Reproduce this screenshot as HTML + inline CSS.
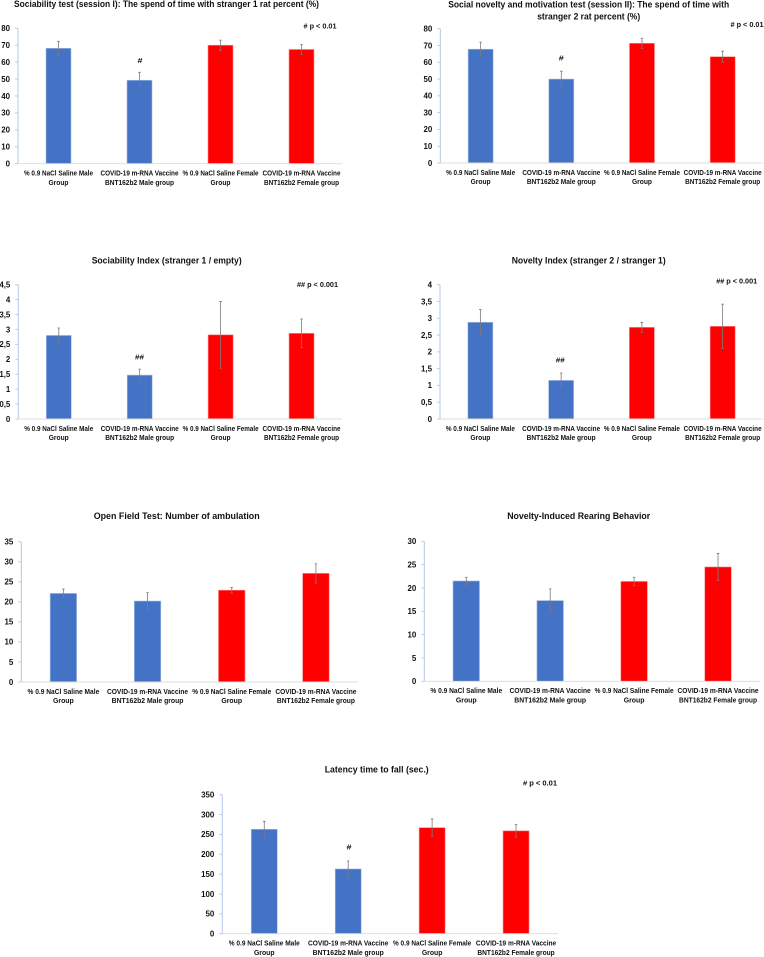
<!DOCTYPE html>
<html lang="en">
<head>
<meta charset="utf-8">
<title>Behavioral test bar charts</title>
<style>
html,body{margin:0;padding:0;background:#fff;width:764px;height:957px;overflow:hidden}
svg{display:block;font-family:"Liberation Sans",sans-serif;font-weight:bold;filter:blur(0.3px)}
</style>
</head>
<body>
<svg id="figure" xmlns="http://www.w3.org/2000/svg" width="764" height="957" viewBox="0 0 764 957"></svg>
<script>
const categoryLinesA = [
  ["% 0.9 NaCl Saline Male", "Group"],
  ["COVID-19 m-RNA Vaccine", "BNT162b2 Male group"],
  ["% 0.9 NaCl Saline Female", "Group"],
  ["COVID-19 m-RNA Vaccine", "BNT162b2 Female group"]
];
const barColors = ["#4472c4", "#4472c4", "#ff0000", "#ff0000"];

const sociabilityTestValues = [68.2, 49.3, 70, 67.5];
const sociabilityTestErrors = [4.1, 4.7, 3, 3];
const sociabilityTestTicks = [0, 10, 20, 30, 40, 50, 60, 70, 80];

const socialNoveltyValues = [67.8, 50, 71.3, 63.3];
const socialNoveltyErrors = [4.2, 4.7, 3, 3.3];
const socialNoveltyTicks = [0, 10, 20, 30, 40, 50, 60, 70, 80];

const sociabilityIndexValues = [2.8, 1.47, 2.82, 2.87];
const sociabilityIndexErrors = [0.25, 0.2, 1.12, 0.48];
const sociabilityIndexTicks = [0, 0.5, 1, 1.5, 2, 2.5, 3, 3.5, 4, 4.5];

const noveltyIndexValues = [2.88, 1.15, 2.73, 2.76];
const noveltyIndexErrors = [0.38, 0.22, 0.15, 0.66];
const noveltyIndexTicks = [0, 0.5, 1, 1.5, 2, 2.5, 3, 3.5, 4];

const ambulationValues = [22.1, 20.2, 22.9, 27.1];
const ambulationErrors = [1.1, 2.1, 0.7, 2.4];
const ambulationTicks = [0, 5, 10, 15, 20, 25, 30, 35];

const rearingValues = [21.5, 17.3, 21.4, 24.5];
const rearingErrors = [0.8, 2.5, 0.9, 2.9];
const rearingTicks = [0, 5, 10, 15, 20, 25, 30];

const latencyValues = [263, 163, 267, 259];
const latencyErrors = [20, 20, 22, 16];
const latencyTicks = [0, 50, 100, 150, 200, 250, 300, 350];

const svg = document.getElementById('figure');
const NS = 'http://www.w3.org/2000/svg';

function make(tag, attrs, parent) {
  const el = document.createElementNS(NS, tag);
  for (const k in attrs) el.setAttribute(k, attrs[k]);
  parent.appendChild(el);
  return el;
}

function label(parent, str, x, y, size, width, anchor) {
  const attrs = {x: x, y: y, 'font-size': size, 'text-anchor': anchor || 'middle', fill: '#111'};
  if (width) {
    attrs.textLength = width;
    attrs.lengthAdjust = 'spacingAndGlyphs';
  }
  const t = make('text', attrs, parent);
  t.textContent = str;
  return t;
}

function drawChart(cfg) {
  const g = make('g', {}, svg);
  
  

  const maxTick = Math.max.apply(null, cfg.ticks);
  const yScale = v => cfg.y0 - (v / maxTick) * (cfg.y0 - cfg.yTop);
  const band = (cfg.xRight - cfg.xAxis) / cfg.values.length;
  const xScale = i => cfg.xAxis + band * (i + 0.5);
  const barW = cfg.barW;

  cfg.titleLines.forEach(line => {
    const t = label(g, line[0], cfg.titleX, line[1], 9.2, line[2]);
    
    
  });

  cfg.values.forEach((v, i) => {
    const bar = make('rect', {
      x: xScale(i) - barW / 2, y: yScale(v), width: barW, height: cfg.y0 - yScale(v),
      fill: barColors[i], stroke: i < 2 ? '#a9bfe6' : '#ff8a8a', 'stroke-width': 0.6
    }, g);
    
    
  });

  cfg.errors.forEach((e, i) => {
    const cx = xScale(i);
    const top = yScale(cfg.values[i] + e);
    const bottom = yScale(cfg.values[i] - e);
    const path = make('path', {
      d: 'M' + (cx - 1.3) + ' ' + top + 'H' + (cx + 1.3) + 'M' + cx + ' ' + top + 'V' + bottom + 'M' + (cx - 1.3) + ' ' + bottom + 'H' + (cx + 1.3),
      fill: 'none', stroke: '#7b7b7b', 'stroke-width': 0.8
    }, g);
    
    
  });

  const yAxis = make('line', {x1: cfg.xAxis, x2: cfg.xAxis, y1: yScale(maxTick), y2: cfg.y0, stroke: '#b4c7e7', 'stroke-width': 1}, g);
  
  

  const xAxis = make('line', {x1: cfg.xAxis, x2: cfg.xRight, y1: cfg.y0, y2: cfg.y0, stroke: '#dcdcdc', 'stroke-width': 0.9}, g);
  
  

  cfg.ticks.forEach(tick => {
    const y = yScale(tick);
    const mark = make('line', {x1: cfg.xAxis - 3, x2: cfg.xAxis, y1: y, y2: y, stroke: '#b4c7e7', 'stroke-width': 0.9}, g);
    
    
    const tl = label(g, String(tick).replace('.', ','), cfg.xAxis - 8, y + 2.8, 7.9, null, 'end');
    
    
  });

  const lineWidths = {
    "% 0.9 NaCl Saline Male": 69, "Group": 20, "COVID-19 m-RNA Vaccine": 78,
    "BNT162b2 Male group": 69, "% 0.9 NaCl Saline Female": 76, "BNT162b2 Female group": 75
  };
  categoryLinesA.forEach((lines, i) => {
    lines.forEach((str, j) => {
      const cl = label(g, str, xScale(i), cfg.y0 + 11.9 + j * 9.2, 7.1, lineWidths[str] * cfg.labelScale);
      
      
    });
  });

  (cfg.notes || []).forEach(n => {
    const nt = label(g, n[0], n[1], n[2], 7.7, n[3]);
    
    
  });
}

drawChart({
  name: 'sociability-test-chart', values: sociabilityTestValues, errors: sociabilityTestErrors, ticks: sociabilityTestTicks,
  xAxis: 18, xRight: 342, yTop: 28.3, y0: 163.7, barW: 25, labelScale: 1, titleX: 166.5,
  titleLines: [['Sociability test (session I): The spend of time with stranger 1 rat percent (%)', 6.9, 305]],
  notes: [['# p < 0.01', 320, 28.6, 33], ['#', 140, 63, 5]]
});
drawChart({
  name: 'social-novelty-chart', values: socialNoveltyValues, errors: socialNoveltyErrors, ticks: socialNoveltyTicks,
  xAxis: 440.3, xRight: 763, yTop: 28.7, y0: 163, barW: 25, labelScale: 1, titleX: 588.7,
  titleLines: [['Social novelty and motivation test (session II): The spend of time with', 7.7, 281], ['stranger 2 rat percent (%)', 19.7, 103]],
  notes: [['# p < 0.01', 747, 27, 33], ['#', 561.3, 60.5, 5]]
});
drawChart({
  name: 'sociability-index-chart', values: sociabilityIndexValues, errors: sociabilityIndexErrors, ticks: sociabilityIndexTicks,
  xAxis: 18.3, xRight: 342, yTop: 284.7, y0: 419, barW: 25, labelScale: 1, titleX: 166.7,
  titleLines: [['Sociability Index (stranger 1 / empty)', 263.4, 150]],
  notes: [['## p < 0.001', 317.5, 287, 41], ['##', 139.5, 359.7, 9]]
});
drawChart({
  name: 'novelty-index-chart', values: noveltyIndexValues, errors: noveltyIndexErrors, ticks: noveltyIndexTicks,
  xAxis: 440, xRight: 763, yTop: 284.7, y0: 419, barW: 25, labelScale: 1, titleX: 588.7,
  titleLines: [['Novelty Index (stranger 2 / stranger 1)', 263.4, 154]],
  notes: [['## p < 0.001', 736.7, 283.7, 41], ['##', 560.3, 362.4, 9]]
});
drawChart({
  name: 'open-field-chart', values: ambulationValues, errors: ambulationErrors, ticks: ambulationTicks,
  xAxis: 21.3, xRight: 358, yTop: 541.7, y0: 682, barW: 26.5, labelScale: 1.04, titleX: 176.7,
  titleLines: [['Open Field Test: Number of ambulation', 519.2, 166]]
});
drawChart({
  name: 'rearing-behavior-chart', values: rearingValues, errors: rearingErrors, ticks: rearingTicks,
  xAxis: 424.3, xRight: 760, yTop: 541.3, y0: 681.3, barW: 26.5, labelScale: 1.04, titleX: 578.7,
  titleLines: [['Novelty-Induced Rearing Behavior', 519.2, 143]]
});
drawChart({
  name: 'latency-chart', values: latencyValues, errors: latencyErrors, ticks: latencyTicks,
  xAxis: 222.3, xRight: 558, yTop: 794.7, y0: 933.7, barW: 26, labelScale: 1.03, titleX: 376.7,
  titleLines: [['Latency time to fall (sec.)', 772.4, 104]],
  notes: [['# p < 0.01', 540, 785.3, 34], ['#', 349, 849.5, 5]]
});
</script>
</body>
</html>
